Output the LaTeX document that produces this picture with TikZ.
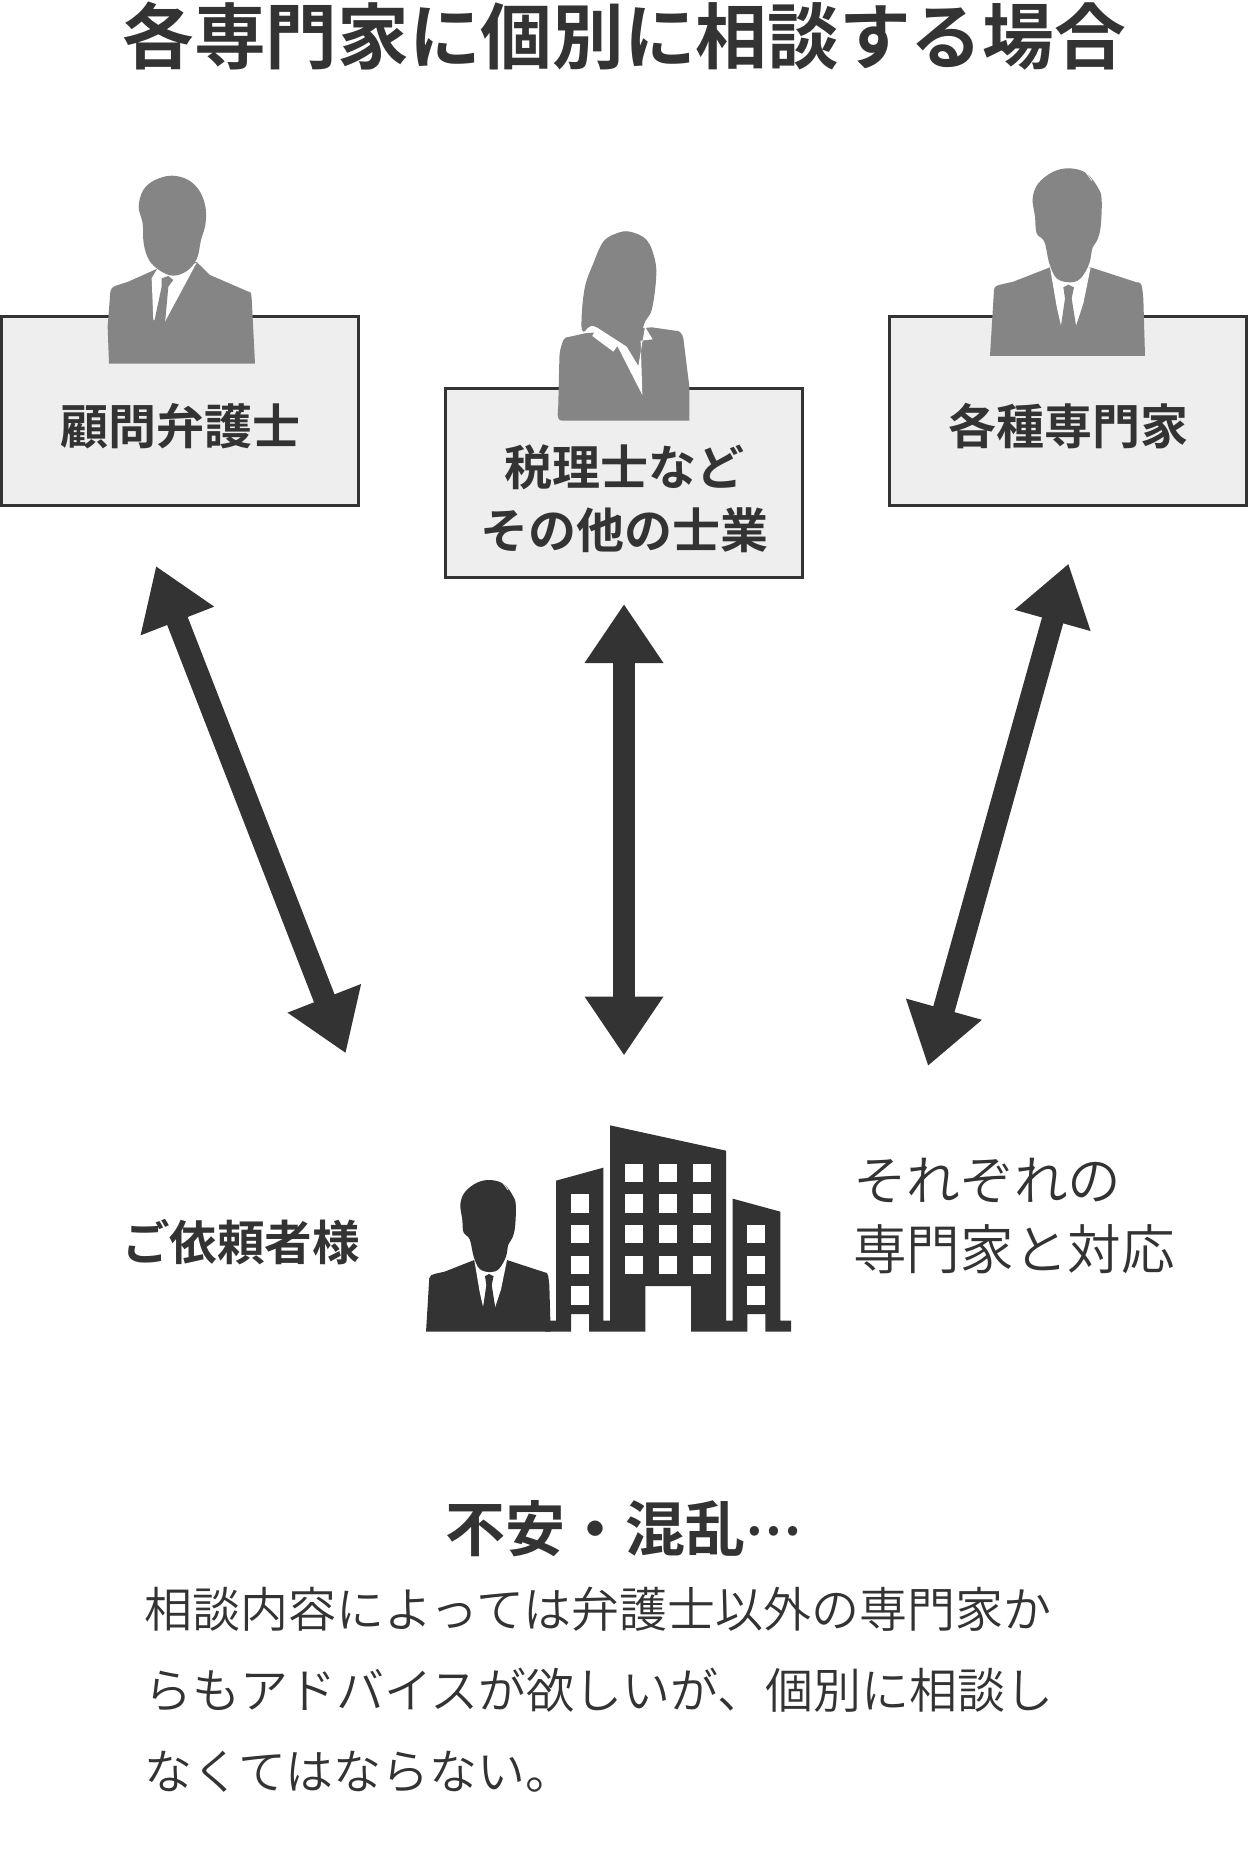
\documentclass[tikz,border=0pt]{standalone}
\usepackage{fontspec}
\usetikzlibrary{arrows.meta}
\setmainfont{Noto Sans CJK JP}
\newfontfamily\jplight{Noto Sans CJK JP DemiLight}
\newfontfamily\jpbold{Noto Sans CJK JP Bold}
\definecolor{ink}{HTML}{333333}
\definecolor{mid}{HTML}{858585}
\definecolor{pale}{HTML}{EEEEEE}
\newcommand{\maleC}[1]{%
 \fill[#1] (330,618)--(342,420) to[out=90,in=190] (365,403)--(400,395)--(510,352)--(632,352)--(770,397) to[out=10,in=100] (790,445)--(795,618)--cycle;
 \fill[white] (510,352)--(530,470)--(543,527)--(555,480)--(575,480)--(588,527)--(610,460)--(632,352)--cycle;
 \fill[#1] (550,412)--(565,404)--(582,412)--(575,445)--(588,527)--(565,545)--(543,527)--(555,445)--cycle;
 \fill[#1] plot[smooth cycle,tension=.6] coordinates {(570,55)(620,70)(655,115)(665,150)(662,230)(652,270)(637,295)(628,340)(602,385)(570,397)(530,385)(508,340)(493,275)(470,250)(465,200)(458,145)(475,100)(520,65)};
 \draw[white,line width=.5pt] (592,56) to[out=10,in=130] (636,92);
}
\begin{document}
\begin{tikzpicture}[x=.75pt,y=-.75pt,
 boxst/.style={draw=ink,fill=pale,line width=2.25pt,inner sep=0pt,minimum width=267.75pt,minimum height=141.4pt},
 lab/.style={text=ink,align=center,inner sep=0pt},
 bigarrow/.style={draw=ink,fill=ink,line width=16.5pt,{Triangle[length=44.25pt,width=56pt]}-{Triangle[length=44.25pt,width=56pt]}}]
\useasboundingbox (0,0) rectangle (1248,1876);
\fill[white] (0,0) rectangle (1248,1876);
\node[lab,font=\jpbold\fontsize{53.75}{54}\selectfont] (title) at (624,36) {各専門家に個別に相談する場合};
\node[boxst] (b1) at (180,411.25) {};
\node[boxst] (b2) at (624,483.25) {};
\node[boxst] (b3) at (1068,411.25) {};
% person 1
\begin{scope}[shift={(0,150)},xscale=1/3,yscale=1/3]
 \fill[mid] (327,641)--(323,530)--(331,425) to[out=80,in=200] (345,408)--(385,395)--(472,356)--(590,336)--(630,375)--(745,425) to[out=20,in=90] (755,445)--(765,641)--cycle;
 \fill[white] (472,356)--(455,385)--(460,510)--(495,515)--(590,338)--(540,360)--cycle;
 \fill[mid] (485,385)--(505,378)--(520,390)--(505,410)--(495,520)--(480,548)--(462,518)--(485,410)--cycle;
 \fill[mid] plot[smooth cycle,tension=.6] coordinates {(515,77)(565,90)(600,125)(617,175)(616,225)(603,270)(591,325)(562,362)(520,377)(480,362)(447,330)(431,280)(428,220)(416,170)(430,120)(465,90)};
\end{scope}
% person 2
\begin{scope}[shift={(430,210)},xscale=1/3,yscale=1/3]
 \fill[mid] (397,632) to[out=180,in=270] (385,580)--(388,450) to[out=90,in=250] (400,390) to[out=70,in=190] (420,380)--(465,370)--(665,352)--(735,362) to[out=10,in=100] (760,385)--(778,530)--(778,632)--cycle;
 \fill[mid] plot[smooth cycle,tension=.6] coordinates {(600,65)(650,90)(675,150)(678,210)(665,300)(640,350)(625,465)(500,352)(460,365)(455,320)(465,230)(490,160)(520,95)(560,70)};
 \fill[white] (500,352)--(487,378)--(550,425)--(562,408)--(637,555)--(632,392)--(668,388)--(645,350)--(625,468)--(590,410)--cycle;
\end{scope}
% person 3
\begin{scope}[shift={(880,150)},xscale=1/3,yscale=1/3]
 \maleC{mid}
\end{scope}
\node[lab,font=\jpbold\fontsize{36}{36}\selectfont] (t1) at (180,426) {顧問弁護士};
\node[lab,font=\jpbold\fontsize{36}{47.5}\selectfont] (t2) at (624,499) {税理士など\\その他の士業};
\node[lab,font=\jpbold\fontsize{36}{36}\selectfont] (t3) at (1068,426) {各種専門家};
% arrows
\coordinate (a1s) at (156,566); \coordinate (a1e) at (345.7,1053.3);
\coordinate (a2s) at (624,604); \coordinate (a2e) at (624,1055.5);
\coordinate (a3s) at (1068.5,563.6); \coordinate (a3e) at (928,1066);
\draw[bigarrow] (a1s)--(a1e);
\draw[bigarrow] (a2s)--(a2e);
\draw[bigarrow] (a3s)--(a3e);
% client
\node[lab,font=\jpbold\fontsize{35.7}{36}\selectfont] (client) at (241,1242) {ご依頼者様};
\begin{scope}[shift={(410,1110)},xscale=1/3,yscale=1/3]
 \fill[ink] (438,212)--(580,173)--(580,632)--(600,632)--(600,46)--(948,122)--(948,632)--(968,632)--(968,266)--(1111,305)--(1111,632)--(1143,632)--(1143,665)--(1066,665)--(1066,612)--(1012,612)--(1012,665)--(843,665)--(843,528)--(706,528)--(706,665)--(537,665)--(537,612)--(483,612)--(483,665)--(405,665)--(405,632)--(438,632)--cycle;
 \foreach \y in {253,345,437,529}{\fill[white] (483,\y) rectangle (537,\y+55);}
 \foreach \x in {646,748,849}{\foreach \y in {162,253,345,437}{\fill[white] (\x,\y) rectangle (\x+54,\y+55);}}
 \foreach \y in {345,437,529}{\fill[white] (1012,\y) rectangle (1066,\y+55);}
\end{scope}
\begin{scope}[shift={(337.6,1165.2)},xscale=.268,yscale=.2693]
 \maleC{ink}
\end{scope}
\node[lab,anchor=west,align=left,font=\jplight\fontsize{40.2}{51.75}\selectfont] (resp) at (853,1215.5) {それぞれの\\専門家と対応};
\node[lab,font=\jpbold\fontsize{45}{45}\selectfont] (worry) at (623,1529) {不安・混乱\raisebox{.28em}{\fontsize{38}{38}\selectfont …}};
\node[lab,anchor=west,align=left,font=\jplight\fontsize{36}{60.75}\selectfont] (body) at (144,1690) {相談内容によっては弁護士以外の専門家か\\らもアドバイスが欲しいが、個別に相談し\\なくてはならない。};
\end{tikzpicture}
\end{document}
